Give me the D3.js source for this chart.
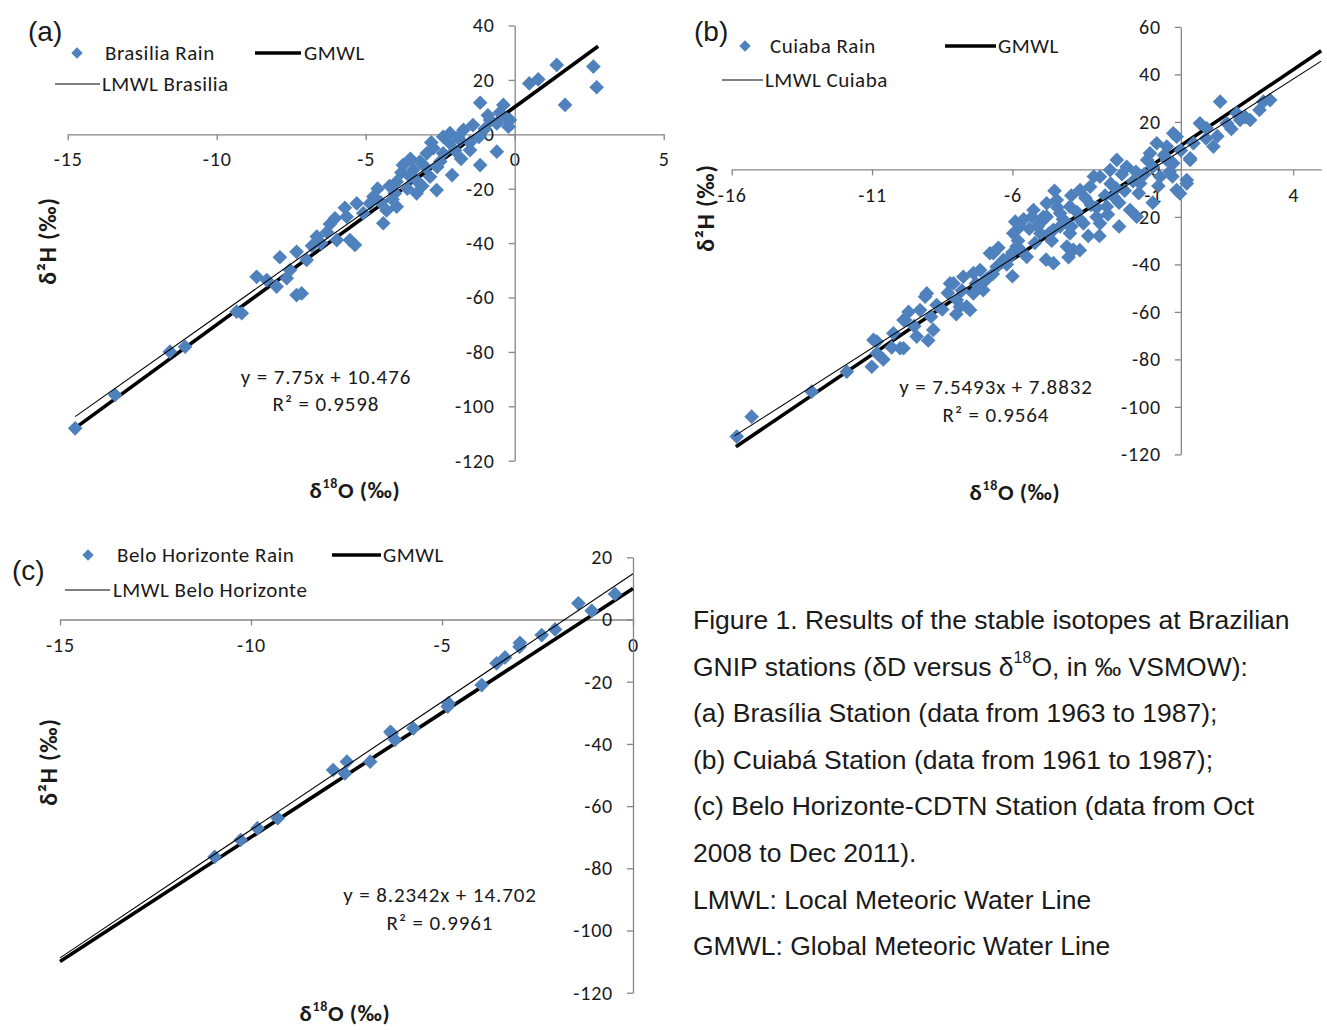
<!DOCTYPE html>
<html>
<head>
<meta charset="utf-8">
<script src="https://cdn.jsdelivr.net/npm/d3@7"></script>
<style>
  body { margin: 0; background: #fff; }
  svg text { font-family: Carlito, Calibri, Lato, sans-serif; fill: #1a1a1a; }
  .caption text, .panelLabel { font-family: 'Liberation Sans', Arial, sans-serif !important; }
</style>
</head>
<body>
<svg id="fig" width="1327" height="1030"></svg>
<script>
// ---------------------------------------------------------------
// data: [d18O, d2H] in permil

const brasiliaRain = [
  [1.41, 25.5], [2.64, 24.9], [2.75, 17.3], [1.69, 10.8], [0.49, 18.7], [0.79, 20.2],
  [-1.16, 11.6], [-0.38, 10.8], [-0.16, 5.3], [-0.21, 2.8], [-0.6, -6.4], [-1.16, -11.3],
  [-1.5, -5.8], [-1.84, -2.1], [-1.72, 1.6], [-2.17, 0.4], [-2.4, -0.9], [-0.83, 5.3],
  [-1.4, 3.4], [-2.73, -5.1], [-2.95, -7], [-3.18, -10], [-3.75, -11.3], [-2.62, -20.5],
  [-3.29, -21.7], [-2.84, -15.6], [-3.51, -15.6], [-3.96, -17.4], [-4.02, -21.7], [-4.41, -32.7],
  [-3.96, -26.6], [-4.74, -22.9], [-4.86, -25.4], [-5.3, -25.4], [-5.08, -29], [-5.64, -30.3],
  [-6.03, -30.9], [-5.97, -38.9], [-5.53, -38.9], [-5.36, -40.7], [-6.64, -37.6], [-6.98, -46.2],
  [-7.32, -43.2], [-7.88, -45.2], [-8.66, -52.4], [-8.32, -53.6], [-7.99, -56], [-7.65, -52.9],
  [-7.54, -49.9], [-7.32, -59.1], [-7.15, -58.5], [-9.33, -65.2], [-9.16, -65.8], [-11.57, -79.9],
  [-11.06, -78.1], [-13.41, -95.8], [-14.75, -108.1],
  [-4.5, -25], [-3.3, -17], [-3.0, -12], [-2.5, -10], [-2.0, -6], [-1.5, -3], [-1.0, 2],
  [-0.6, 4], [-2.8, -3], [-3.5, -9], [-4.2, -19], [-4.6, -20], [-6.3, -36], [-6.8, -41],
  [-6.5, -40], [-2.2, -3], [-1.9, -1], [-3.8, -14], [-4.3, -28], [-1.2, -1], [-0.9, 7],
  [-0.5, 8], [-0.3, 6], [-2.6, -12], [-3.1, -19],
  [-3.6, -20], [-4.1, -24], [-2.4, -7], [-1.8, -9], [-3.4, -13], [-2.1, -15], [-5.7, -27],
  [-6.2, -33]
]

const cuiabaRain = [
  [-15.82, -112.5], [-15.29, -104.1], [-13.15, -93.6], [-11.9, -85.2], [-11.01, -83.1],
  [-10.83, -72.5], [-10.83, -77.4], [-10.24, -69], [-9.82, -63.4], [-9.88, -75.3], [-9.41, -70.4],
  [-8.82, -67.6], [-9.11, -53.6], [-9.29, -59.2], [-8.7, -57.1], [-8.22, -48], [-7.75, -45.2],
  [-7.63, -57.8], [-7.98, -55], [-7.39, -52.2], [-7.15, -42.4], [-6.8, -35.3], [-6.56, -41],
  [-6.32, -38.1], [-5.97, -26.9], [-5.85, -32.5],
  [-10.95, -71.8], [-9.88, -63.4], [-10.0, -75.3], [-9.05, -52.2], [-8.1, -48], [-7.87, -57.8],
  [-7.51, -59.2], [-7.39, -43.7], [-7.04, -50.8], [-6.68, -35.3], [-5.73, -24.1], [-5.25, -17.1],
  [-5.02, -22.7], [-4.54, -39.5], [-4.42, -12.9], [-4.78, -19.9], [-4.06, -22.7], [-4.06, -32.5],
  [-5.49, -36.8],
  [1.4, 28.5], [2.94, 28.5], [3.18, 29.2], [2.47, 20.8], [1.99, 23.6], [1.64, 19.4], [2.11, 20.8],
  [0.68, 19.4], [0.92, 17.3], [1.16, 9.6], [0.45, 11], [0.33, 4], [-0.15, 13.8], [-0.27, 15.2],
  [-0.5, 9.6], [-0.86, 11], [-1.1, 6.8], [-0.27, 2.6], [-0.15, -8.7], [0.21, -4.5], [-0.74, -3.1],
  [-1.45, -5.9], [-1.81, -17.1], [-1.57, -19.9], [-2.28, 4], [-1.93, 1.1], [-2.52, -0.3],
  [-2.88, -3.1], [-3.23, -7.3], [-3.59, -8.7], [-2.4, -11.5], [-2.64, -15.7], [-2.88, -22.7],
  [-3.47, -22.7], [-3.95, -15.7], [-4.3, -18.5], [-4.78, -14.3], [-3.83, -33.9], [-3.95, -26.9],
  [-4.54, -25.5], [0.21, -5.9], [-0.03, -10.1], [0.33, 4.7], [-0.5, 4],
  [-5.4, -25], [-5.0, -27], [-4.6, -30], [-4.3, -24], [-4.9, -20], [-5.3, -20], [-3.7, -18],
  [-3.2, -15], [-3.0, -20], [-2.6, -19], [-2.2, -14], [-2.0, -9], [-1.7, -5], [-1.3, -2],
  [-1.0, 1], [-0.6, 6], [-3.9, -11], [-4.4, -16], [-5.8, -30], [-6.1, -37], [-6.9, -46],
  [-7.3, -48], [-7.8, -51], [-8.5, -59], [-8.9, -62], [-9.5, -66], [-10.3, -75], [-6.5, -33],
  [-5.6, -21], [-4.0, -37], [-3.3, -28], [-2.5, -6], [-1.5, -10], [-0.3, -3], [0.0, 8],
  [0.9, 13], [1.3, 14], [1.8, 17], [2.3, 22], [2.8, 25],
  [-7.0, -47], [-6.7, -44], [-6.2, -40], [-6.0, -35], [-5.7, -34], [-5.2, -31], [-5.1, -24],
  [-4.7, -27], [-4.2, -21], [-3.9, -24], [-3.6, -21], [-3.4, -12], [-3.0, -16], [-2.7, -11],
  [-2.3, -8], [-2.1, -2], [-1.6, -1], [-1.2, 4], [-0.8, -7], [-0.4, -1], [-8.3, -52],
  [-8.0, -61], [-9.7, -60], [-10.6, -80], [-9.0, -72], [-6.0, -45], [-4.8, -38], [-3.6, -34],
  [-2.2, -24], [-1.0, -14], [-2.9, -28], [-5.9, -22], [-4.5, -9], [-3.1, -3]
]

const beloHorizonteRain = [
  [-0.47, 8.2], [-1.43, 5.2], [-1.08, 2.8], [-2.04, -3.2], [-2.39, -5], [-2.96, -7.5],
  [-2.97, -8.8], [-3.35, -12.2], [-3.57, -14.1], [-3.96, -21.1], [-4.83, -26.9], [-4.85, -28],
  [-5.75, -35], [-6.32, -36.6], [-6.23, -38.7], [-6.88, -45.7], [-7.49, -45.7], [-7.85, -48.4],
  [-7.54, -49.5], [-10.95, -76.3], [-10.27, -70.9], [-9.83, -67.1], [-9.3, -63.9], [-6.35, -36.1]
]

// meteoric water lines, end points as drawn
const gmwlA = [[-14.65, -107.2], [2.8, 32.4]]
const lmwlA = [[-14.75, -103.8], [2.8, 32.2]]
const gmwlB = [[-15.85, -116.8], [5, 50]]
const lmwlB = [[-15.9, -112.2], [5, 45.6]]
const gmwlC = [[-15, -110], [0, 10]]
const lmwlC = [[-15, -108.8], [0, 14.7]]

// tick values
const xTicksA = [-15, -10, -5, 0, 5]
const yTicksA = [-120, -100, -80, -60, -40, -20, 0, 20, 40]
const xTicksB = [-16, -11, -6, -1, 4]
const yTicksB = [-120, -100, -80, -60, -40, -20, 0, 20, 40, 60]
const xTicksC = [-15, -10, -5, 0]
const yTicksC = [-120, -100, -80, -60, -40, -20, 0, 20]

const captionLines = [
  'Figure 1. Results of the stable isotopes at Brazilian',
  'GNIP stations (\u03b4D versus \u03b4^18O, in \u2030 VSMOW):',
  '(a) Bras\u00edlia Station (data from 1963 to 1987);',
  '(b) Cuiab\u00e1 Station (data from 1961 to 1987);',
  '(c) Belo Horizonte-CDTN Station (data from Oct',
  '2008 to Dec 2011).',
  'LMWL: Local Meteoric Water Line',
  'GMWL: Global Meteoric Water Line'
]

// ---------------------------------------------------------------
const svg = d3.select('#fig')
const blue = '#4f81bd'
const axisGrey = '#868686'

const panels = [
  {
    label: '(a)', labelPos: [28, 41],
    xDomain: [-15, 5], xRange: [67.7, 663.7], yDomain: [-120, 40], yRange: [460.7, 25.5],
    xTicks: xTicksA, yTicks: yTicksA,
    rain: brasiliaRain, gmwl: gmwlA, lmwl: lmwlA,
    rainName: 'Brasilia Rain', lmwlName: 'LMWL Brasilia',
    legend: { row1: 53, row2: 84, diamondX: 77, rainX: 105, gmwlLine: [255, 301], gmwlX: 304, lmwlLine: [55, 100], lmwlX: 102 },
    eq: ['y = 7.75x + 10.476', '0.9598'], eqPos: [326, 377, 404],
    yTitle: [47, 241], xTitle: [355, 490]
  },
  {
    label: '(b)', labelPos: [694, 41],
    xDomain: [-16, 5], xRange: [731.7, 1321.2], yDomain: [-120, 60], yRange: [454.4, 26.9],
    xTicks: xTicksB, yTicks: yTicksB,
    rain: cuiabaRain, gmwl: gmwlB, lmwl: lmwlB,
    rainName: 'Cuiaba Rain', lmwlName: 'LMWL Cuiaba',
    legend: { row1: 46, row2: 80, diamondX: 745, rainX: 770, gmwlLine: [945, 996], gmwlX: 998, lmwlLine: [722, 763], lmwlX: 765 },
    eq: ['y = 7.5493x + 7.8832', '0.9564'], eqPos: [996, 387, 415],
    yTitle: [705, 208], xTitle: [1015, 492]
  },
  {
    label: '(c)', labelPos: [12, 580],
    xDomain: [-15, 0], xRange: [60, 633], yDomain: [-120, 20], yRange: [992.7, 557.3],
    xTicks: xTicksC, yTicks: yTicksC,
    rain: beloHorizonteRain, gmwl: gmwlC, lmwl: lmwlC,
    rainName: 'Belo Horizonte Rain', lmwlName: 'LMWL Belo Horizonte',
    legend: { row1: 555, row2: 590, diamondX: 88, rainX: 117, gmwlLine: [332, 381], gmwlX: 383, lmwlLine: [65, 110], lmwlX: 113 },
    eq: ['y = 8.2342x + 14.702', '0.9961'], eqPos: [440, 895, 923],
    yTitle: [48, 762], xTitle: [345, 1013]
  }
]

const drawPanel = function (p) {
  const x = d3.scaleLinear().domain(p.xDomain).range(p.xRange)
  const y = d3.scaleLinear().domain(p.yDomain).range(p.yRange)
  const g = svg.append('g').attr('class', 'panel')
  const plain = (d) => String(d) // excel shows a hyphen, not a minus sign

  // axes cross at the origin
  const xAxis = g
    .append('g')
    .attr('transform', `translate(0,${y(0)})`)
    .call(d3.axisBottom(x).tickValues(p.xTicks).tickFormat(plain).tickSize(6).tickPadding(12).tickSizeOuter(0))
  const yAxis = g
    .append('g')
    .attr('transform', `translate(${x(0)},0)`)
    .call(d3.axisLeft(y).tickValues(p.yTicks).tickFormat(plain).tickSize(6).tickPadding(14).tickSizeOuter(0))
  ;[xAxis, yAxis].forEach((a) => {
    a.attr('font-family', null).attr('font-size', null)
    a.select('.domain').attr('stroke', axisGrey).attr('stroke-width', 1.3)
    a.selectAll('.tick line').attr('stroke', axisGrey).attr('stroke-width', 1.3)
    a.selectAll('.tick text')
      .attr('font-size', 20)
      .attr('letter-spacing', 0.8)
      .attr('fill', '#1a1a1a')
  })

  const line = d3.line().x((d) => x(d[0])).y((d) => y(d[1]))

  // GMWL under the points
  g.append('path')
    .attr('d', line(p.gmwl))
    .attr('fill', 'none')
    .attr('stroke', '#000')
    .attr('stroke-width', 3.6)

  g.append('g')
    .selectAll('path')
    .data(p.rain)
    .join('path')
    .attr('d', d3.symbol(d3.symbolSquare, 108))
    .attr('transform', (d) => `translate(${x(d[0])},${y(d[1])}) rotate(45)`)
    .attr('fill', blue)

  // LMWL on top
  g.append('path')
    .attr('d', line(p.lmwl))
    .attr('fill', 'none')
    .attr('stroke', '#000')
    .attr('stroke-width', 1.1)

  // legend
  const L = p.legend
  const lg = g.append('g').attr('font-size', 21).attr('letter-spacing', 0.5).attr('dominant-baseline', 'central')
  lg.append('path')
    .attr('d', d3.symbol(d3.symbolSquare, 64))
    .attr('transform', `translate(${L.diamondX},${L.row1}) rotate(45)`)
    .attr('fill', blue)
  lg.append('text').attr('x', L.rainX).attr('y', L.row1).text(p.rainName)
  lg.append('line')
    .attr('x1', L.gmwlLine[0]).attr('x2', L.gmwlLine[1])
    .attr('y1', L.row1).attr('y2', L.row1)
    .attr('stroke', '#000').attr('stroke-width', 3.6)
  lg.append('text').attr('x', L.gmwlX).attr('y', L.row1).text('GMWL')
  lg.append('line')
    .attr('x1', L.lmwlLine[0]).attr('x2', L.lmwlLine[1])
    .attr('y1', L.row2).attr('y2', L.row2)
    .attr('stroke', '#000').attr('stroke-width', 1.1)
  lg.append('text').attr('x', L.lmwlX).attr('y', L.row2).text(p.lmwlName)

  // trendline equation
  const eg = g.append('g')
    .attr('font-size', 21)
    .attr('letter-spacing', 0.9)
    .attr('text-anchor', 'middle')
    .attr('dominant-baseline', 'central')
  eg.append('text').attr('x', p.eqPos[0]).attr('y', p.eqPos[1]).text(p.eq[0])
  eg.append('text').attr('x', p.eqPos[0]).attr('y', p.eqPos[2]).text('R\u00b2 = ' + p.eq[1])

  // axis titles
  g.append('text')
    .attr('transform', `translate(${p.yTitle[0]},${p.yTitle[1]}) rotate(-90)`)
    .attr('text-anchor', 'middle')
    .attr('dominant-baseline', 'central')
    .attr('font-size', 24)
    .attr('letter-spacing', 0.8)
    .attr('font-weight', 'bold')
    .text('\u03b4\u00b2H (\u2030)')
  const xt = g.append('text')
    .attr('x', p.xTitle[0])
    .attr('y', p.xTitle[1])
    .attr('text-anchor', 'middle')
    .attr('dominant-baseline', 'central')
    .attr('font-size', 23)
    .attr('letter-spacing', 0.6)
    .attr('font-weight', 600)
  xt.append('tspan').text('\u03b4')
  xt.append('tspan').attr('font-size', 14).attr('dy', -7).text('18')
  xt.append('tspan').attr('dy', 7).text('O (\u2030)')

  // panel letter
  svg.append('text')
    .attr('class', 'panelLabel')
    .attr('x', p.labelPos[0])
    .attr('y', p.labelPos[1])
    .attr('font-size', 28)
    .text(p.label)
}

panels.forEach(drawPanel)

// ---------------------------------------------------------------
// caption
const cap = svg.append('g').attr('class', 'caption').attr('font-size', 26.5)
captionLines.forEach((s, i) => {
  const t = cap.append('text')
    .attr('x', 693)
    .attr('y', 620 + i * 46.6)
    .attr('dominant-baseline', 'central')
  const parts = s.split('^18')
  t.append('tspan').text(parts[0])
  if (parts.length > 1) {
    t.append('tspan').attr('font-size', 16).attr('dy', -10).text('18')
    t.append('tspan').attr('dy', 10).text(parts[1])
  }
})
</script>
</body>
</html>
